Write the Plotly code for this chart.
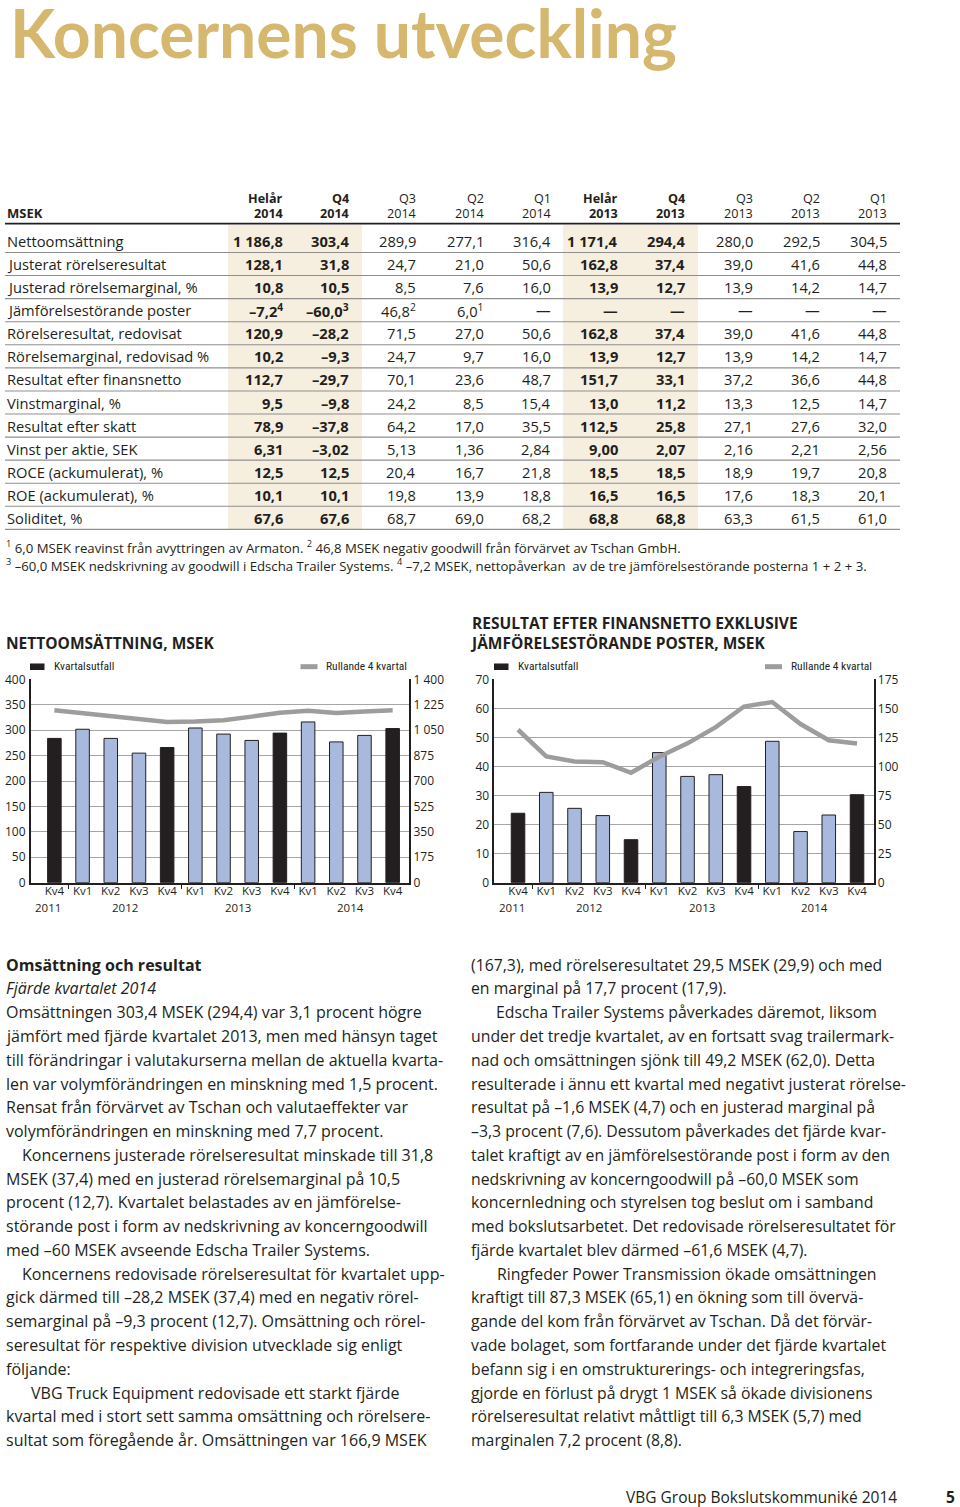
import plotly.graph_objects as go

W, H = 960, 1507


def px(x):
    return x / W


def py(y):
    # map a page pixel row (from the top) to paper coordinates
    return 1 - ((y - 10) / 0.988) / H


INK = "#231f20"
FONT = "Open Sans, Noto Sans, sans-serif"
NARROW = "Liberation Sans Narrow, Roboto Condensed, Roboto, sans-serif"

# ---------------- data ----------------
page_title = "Koncernens utveckling"

col_top = ["Helår", "Q4", "Q3", "Q2", "Q1", "Helår", "Q4", "Q3", "Q2", "Q1"]
col_year = ["2014", "2014", "2014", "2014", "2014", "2013", "2013", "2013", "2013", "2013"]
col_bold = [True, True, False, False, False, True, True, False, False, False]

row_labels = [
    "Nettoomsättning",
    "Justerat rörelseresultat",
    "Justerad rörelsemarginal, %",
    "Jämförelsestörande poster",
    "Rörelseresultat, redovisat",
    "Rörelsemarginal, redovisad %",
    "Resultat efter finansnetto",
    "Vinstmarginal, %",
    "Resultat efter skatt",
    "Vinst per aktie, SEK",
    "ROCE (ackumulerat), %",
    "ROE (ackumulerat), %",
    "Soliditet, %",
]

r_nettoomsattning = ["1 186,8", "303,4", "289,9", "277,1", "316,4", "1 171,4", "294,4", "280,0", "292,5", "304,5"]
r_just_rorelseres = ["128,1", "31,8", "24,7", "21,0", "50,6", "162,8", "37,4", "39,0", "41,6", "44,8"]
r_just_marginal = ["10,8", "10,5", "8,5", "7,6", "16,0", "13,9", "12,7", "13,9", "14,2", "14,7"]
r_jamforelsestor = ["–7,2<sup>4</sup>", "–60,0<sup>3</sup>", "46,8<sup>2</sup>", "6,0<sup>1</sup>",
                    "—", "—", "—", "—", "—", "—"]
r_rorelseres_red = ["120,9", "–28,2", "71,5", "27,0", "50,6", "162,8", "37,4", "39,0", "41,6", "44,8"]
r_rorelsemarg_red = ["10,2", "–9,3", "24,7", "9,7", "16,0", "13,9", "12,7", "13,9", "14,2", "14,7"]
r_res_efter_fin = ["112,7", "–29,7", "70,1", "23,6", "48,7", "151,7", "33,1", "37,2", "36,6", "44,8"]
r_vinstmarginal = ["9,5", "–9,8", "24,2", "8,5", "15,4", "13,0", "11,2", "13,3", "12,5", "14,7"]
r_res_efter_skatt = ["78,9", "–37,8", "64,2", "17,0", "35,5", "112,5", "25,8", "27,1", "27,6", "32,0"]
r_vinst_per_aktie = ["6,31", "–3,02", "5,13", "1,36", "2,84", "9,00", "2,07", "2,16", "2,21", "2,56"]
r_roce = ["12,5", "12,5", "20,4", "16,7", "21,8", "18,5", "18,5", "18,9", "19,7", "20,8"]
r_roe = ["10,1", "10,1", "19,8", "13,9", "18,8", "16,5", "16,5", "17,6", "18,3", "20,1"]
r_soliditet = ["67,6", "67,6", "68,7", "69,0", "68,2", "68,8", "68,8", "63,3", "61,5", "61,0"]

table_rows = [r_nettoomsattning, r_just_rorelseres, r_just_marginal, r_jamforelsestor,
              r_rorelseres_red, r_rorelsemarg_red, r_res_efter_fin, r_vinstmarginal,
              r_res_efter_skatt, r_vinst_per_aktie, r_roce, r_roe, r_soliditet]

footnotes = [
    "<sup>1</sup> 6,0 MSEK reavinst från avyttringen av Armaton. <sup>2</sup> 46,8 MSEK negativ goodwill från förvärvet av Tschan GmbH.",
    "<sup>3</sup> –60,0 MSEK nedskrivning av goodwill i Edscha Trailer Systems. <sup>4</sup> –7,2 MSEK, nettopåverkan  av de tre jämförelsestörande posterna 1 + 2 + 3.",
]

# charts
quarters = ["Kv4", "Kv1", "Kv2", "Kv3", "Kv4", "Kv1", "Kv2", "Kv3", "Kv4", "Kv1", "Kv2", "Kv3", "Kv4"]
quarter_year = [2011, 2012, 2012, 2012, 2012, 2013, 2013, 2013, 2013, 2014, 2014, 2014, 2014]

net_sales = [284.0, 302.0, 284.0, 255.0, 266.0, 304.5, 292.5, 280.0, 294.4, 316.4, 277.1, 289.9, 303.4]
net_sales_r4 = [1188, 1166, 1146, 1127, 1107, 1110, 1119, 1144, 1171.4, 1184, 1169, 1179, 1188]

profit_excl = [23.9, 31.1, 25.6, 23.1, 14.8, 44.8, 36.6, 37.2, 33.1, 48.7, 17.6, 23.3, 30.3]
profit_excl_r4 = [131.7, 108.7, 104.4, 103.8, 94.6, 108.5, 120.0, 134.0, 151.7, 155.6, 136.6, 122.7, 119.9]

chart1_title = "NETTOOMSÄTTNING, MSEK"
chart2_title = "RESULTAT EFTER FINANSNETTO EXKLUSIVE<br>JÄMFÖRELSESTÖRANDE POSTER, MSEK"
legend_bar = "Kvartalsutfall"
legend_line = "Rullande 4 kvartal"

y1_ticks = [0, 50, 100, 150, 200, 250, 300, 350, 400]
y2_ticks = [0, 175, 350, 525, 700, 875, 1050, 1225, 1400]
y2_ticktext = ["0", "175", "350", "525", "700", "875", "1 050", "1 225", "1 400"]
y3_ticks = [0, 10, 20, 30, 40, 50, 60, 70]
y4_ticks = [0, 25, 50, 75, 100, 125, 150, 175]

body_left = [
    "<b>Omsättning och resultat</b>",
    "<i>Fjärde kvartalet 2014</i>",
    "Omsättningen 303,4 MSEK (294,4) var 3,1 procent högre",
    "jämfört med fjärde kvartalet 2013, men med hänsyn taget",
    "till förändringar i valutakurserna mellan de aktuella kvarta-",
    "len var volymförändringen en minskning med 1,5 procent.",
    "Rensat från förvärvet av Tschan och valutaeffekter var",
    "volymförändringen en minskning med 7,7 procent.",
    "Koncernens justerade rörelseresultat minskade till 31,8",
    "MSEK (37,4) med en justerad rörelsemarginal på 10,5",
    "procent (12,7). Kvartalet belastades av en jämförelse-",
    "störande post i form av nedskrivning av koncerngoodwill",
    "med –60 MSEK avseende Edscha Trailer Systems.",
    "Koncernens redovisade rörelseresultat för kvartalet upp-",
    "gick därmed till –28,2 MSEK (37,4) med en negativ rörel-",
    "semarginal på –9,3 procent (12,7). Omsättning och rörel-",
    "seresultat för respektive division utvecklade sig enligt",
    "följande:",
    "VBG Truck Equipment redovisade ett starkt fjärde",
    "kvartal med i stort sett samma omsättning och rörelsere-",
    "sultat som föregående år. Omsättningen var 166,9 MSEK",
]
body_right = [
    "(167,3), med rörelseresultatet 29,5 MSEK (29,9) och med",
    "en marginal på 17,7 procent (17,9).",
    "Edscha Trailer Systems påverkades däremot, liksom",
    "under det tredje kvartalet, av en fortsatt svag trailermark-",
    "nad och omsättningen sjönk till 49,2 MSEK (62,0). Detta",
    "resulterade i ännu ett kvartal med negativt justerat rörelse-",
    "resultat på –1,6 MSEK (4,7) och en justerad marginal på",
    "–3,3 procent (7,6). Dessutom påverkades det fjärde kvar-",
    "talet kraftigt av en jämförelsestörande post i form av den",
    "nedskrivning av koncerngoodwill på –60,0 MSEK som",
    "koncernledning och styrelsen tog beslut om i samband",
    "med bokslutsarbetet. Det redovisade rörelseresultatet för",
    "fjärde kvartalet blev därmed –61,6 MSEK (4,7).",
    "Ringfeder Power Transmission ökade omsättningen",
    "kraftigt till 87,3 MSEK (65,1) en ökning som till övervä-",
    "gande del kom från förvärvet av Tschan. Då det förvär-",
    "vade bolaget, som fortfarande under det fjärde kvartalet",
    "befann sig i en omstrukturerings- och integreringsfas,",
    "gjorde en förlust på drygt 1 MSEK så ökade divisionens",
    "rörelseresultat relativt måttligt till 6,3 MSEK (5,7) med",
    "marginalen 7,2 procent (8,8).",
]
left_indents = {8: 16, 13: 16, 18: 25}
right_indents = {2: 25, 13: 26}

footer_text = "VBG Group Bokslutskommuniké 2014"
page_number = "5"

# ---------------- figure ----------------
idx = list(range(len(quarters)))
BLUE = "#a9b9de"
bar_colors = [INK if q == "Kv4" else BLUE for q in quarters]
dividers = [i - 0.5 for i in range(1, len(quarter_year)) if quarter_year[i] != quarter_year[i - 1]]
years = sorted(set(quarter_year))
year_centers = [sum(i for i in idx if quarter_year[i] == yv) / quarter_year.count(yv) for yv in years]

fig = go.Figure()
fig.add_trace(go.Bar(x=idx, y=net_sales, width=0.48, marker=dict(color=bar_colors, line=dict(color=INK, width=1)),
                     xaxis="x", yaxis="y", showlegend=False, name=legend_bar))
fig.add_trace(go.Scatter(x=idx, y=net_sales_r4, mode="lines", line=dict(color="#9d9d9d", width=4.5),
                         xaxis="x", yaxis="y2", showlegend=False, name=legend_line))
fig.add_trace(go.Bar(x=idx, y=profit_excl, width=0.48, marker=dict(color=bar_colors, line=dict(color=INK, width=1)),
                     xaxis="x2", yaxis="y3", showlegend=False, name=legend_bar))
fig.add_trace(go.Scatter(x=idx, y=profit_excl_r4, mode="lines", line=dict(color="#9d9d9d", width=4.5),
                         xaxis="x2", yaxis="y4", showlegend=False, name=legend_line))

chart_top, chart_bot = 680, 883
tickfont = dict(family=FONT, size=12, color=INK)


def xaxis_cfg(domain, anchor):
    return dict(domain=domain, anchor=anchor, range=[-0.84, 12.59], tickmode="array", tickvals=idx,
                ticktext=quarters, ticks="", showline=True, linecolor=INK, linewidth=1.5, showgrid=False,
                zeroline=False, tickfont=dict(family=FONT, size=11.5, color=INK), ticklabelstandoff=-3,
                minor=dict(tickmode="array", tickvals=dividers, ticks="outside", ticklen=5, tickwidth=1.3,
                           tickcolor=INK, showgrid=False))


def yleft_cfg(anchor, rng, ticks):
    return dict(domain=[py(chart_bot), py(chart_top)], anchor=anchor, range=rng, tickmode="array",
                tickvals=ticks, showgrid=True, gridcolor="#a6a6a6", gridwidth=1.3, showline=True,
                linecolor=INK, linewidth=1.5, ticks="", zeroline=False, tickfont=tickfont, ticklabelstandoff=1)


def yright_cfg(anchor, over, rng, ticks, text):
    return dict(overlaying=over, side="right", anchor=anchor, range=rng, tickmode="array", tickvals=ticks,
                ticktext=text, showgrid=False, showline=True, linecolor=INK, linewidth=1.5, ticks="",
                zeroline=False, tickfont=tickfont, ticklabelstandoff=0)


c1 = [px(30.7), px(409.3)]
c2 = [px(494.3), px(873.7)]

fig.update_layout(
    width=W, height=H, margin=dict(l=0, r=0, t=0, b=0),
    paper_bgcolor="white", plot_bgcolor="white", bargap=0.5,
    xaxis=xaxis_cfg(c1, "y"),
    yaxis=yleft_cfg("x", [0, 400], y1_ticks),
    yaxis2=yright_cfg("x", "y", [0, 1400], y2_ticks, y2_ticktext),
    xaxis2=xaxis_cfg(c2, "y3"),
    yaxis3=yleft_cfg("x2", [0, 70], y3_ticks),
    yaxis4=yright_cfg("x2", "y3", [0, 175], y4_ticks, [str(v) for v in y4_ticks]),
)

ann = []
shapes = []


def text(x, y, s, size, anchor="left", color=INK, family=FONT, bold=False, yanchor="middle", **kw):
    ann.append(dict(x=px(x), y=py(y), xref="paper", yref="paper", text=s, showarrow=False,
                    xanchor=anchor, yanchor=yanchor, align=anchor if anchor != "center" else "center",
                    font=dict(family=family, size=size, color=color, weight=700 if bold else 400), **kw))


# page title
text(8, 33, page_title, 66, family="Lato, Open Sans, sans-serif", color="#d5b76e", bold=True)

# table
col_right = [285, 351, 418, 486, 553, 620, 687, 755, 822, 889]
shade_spans = [(228, 362), (563, 698)]
header_line_y = 224.5
first_line_y = 253.3
row_h = 23.06
for x0, x1 in shade_spans:
    shapes.append(dict(type="rect", xref="paper", yref="paper", x0=px(x0), x1=px(x1),
                       y0=py(header_line_y + 1), y1=py(first_line_y + row_h * (len(row_labels) - 1)),
                       fillcolor="#f6efdf", line=dict(width=0), layer="below"))
shapes.append(dict(type="line", xref="paper", yref="paper", x0=px(5), x1=px(900), y0=py(header_line_y),
                   y1=py(header_line_y), line=dict(color=INK, width=1.6)))
for k in range(len(row_labels)):
    ly = first_line_y + k * row_h
    shapes.append(dict(type="line", xref="paper", yref="paper", x0=px(5), x1=px(900), y0=py(ly), y1=py(ly),
                       line=dict(color="#8f8f8f", width=1.1)))

text(5, 214, "<b>MSEK</b>", 13)
for j, xr in enumerate(col_right):
    b = col_bold[j]
    text(xr, 199, f"<b>{col_top[j]}</b>" if b else col_top[j], 12.6, anchor="right")
    text(xr, 214, f"<b>{col_year[j]}</b>" if b else col_year[j], 12.6, anchor="right")

for k, lab in enumerate(row_labels):
    cy = first_line_y + k * row_h - 11.5
    text(5, cy, lab, 14.7)
    for j, xr in enumerate(col_right):
        v = table_rows[k][j]
        text(xr, cy, f"<b>{v}</b>" if col_bold[j] else v, 14.7, anchor="right")

for i, fn in enumerate(footnotes):
    text(4, 548 + i * 18, fn, 13.2)

# chart titles
text(4, 644, f"<b>{chart1_title}</b>", 15.5)
text(468, 634, f"<b>{chart2_title}</b>", 15.5)

# legends
for (bx, lx) in [(30, 300.5), (494, 765)]:
    shapes.append(dict(type="rect", xref="paper", yref="paper", x0=px(bx), x1=px(bx + 14.5), y0=py(670.5),
                       y1=py(664), fillcolor=INK, line=dict(width=0)))
    shapes.append(dict(type="line", xref="paper", yref="paper", x0=px(lx), x1=px(lx + 17), y0=py(667.2),
                       y1=py(667.2), line=dict(color="#9d9d9d", width=5)))
    text(bx + 22, 667, legend_bar, 11.5, family=NARROW)
    text(lx + 23.5, 667, legend_line, 11.5, family=NARROW)

# year labels under x axes
for xa in ["x", "x2"]:
    for yv, cx in zip(years, year_centers):
        ann.append(dict(x=cx, y=py(908), xref=xa, yref="paper", text=str(yv), showarrow=False,
                        xanchor="center", yanchor="middle", xshift=-6 if cx == 0 else 0,
                        font=dict(family=FONT, size=11.5, color=INK)))

# body text
line_h = 23.75
for i, s in enumerate(body_left):
    text(4 + left_indents.get(i, 0), 965 + i * line_h, s, 16)
for i, s in enumerate(body_right):
    text(468.5 + right_indents.get(i, 0), 965 + i * line_h, s, 15.8)

# footer
text(899, 1497, footer_text, 15.5, anchor="right")
text(957, 1497, f"<b>{page_number}</b>", 15.5, anchor="right")

fig.update_layout(annotations=ann, shapes=shapes)
fig.write_html("out.html", config={"displayModeBar": False},
               post_script="document.body.style.margin='0px';document.body.style.overflow='hidden';")
